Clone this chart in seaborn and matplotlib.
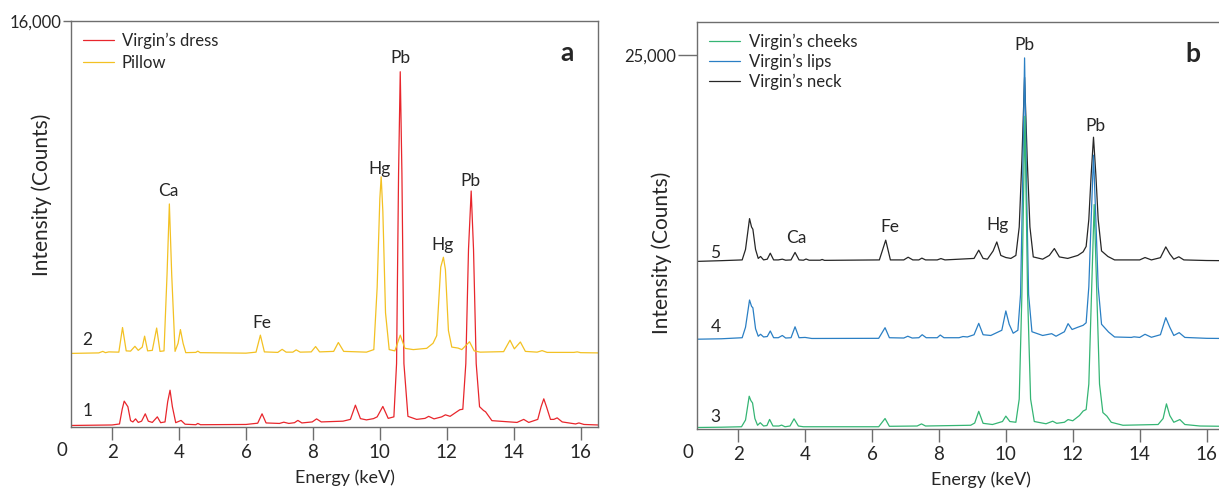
import matplotlib
matplotlib.use("Agg")
import matplotlib.pyplot as plt
import seaborn as sns
import pandas as pd

# ---------------- data ----------------
# Panel a
dress_kev = [0.75, 2.0, 2.22, 2.30, 2.36, 2.42, 2.47, 2.55, 2.62, 2.70, 2.78, 2.88, 2.99, 3.08, 3.20,
             3.35, 3.45, 3.58, 3.66, 3.73, 3.80, 3.90, 4.06, 4.18, 4.50, 4.56, 4.64, 6.0, 6.35, 6.48,
             6.60, 7.0, 7.13, 7.28, 7.45, 7.55, 7.67, 7.98, 8.11, 8.25, 8.9, 9.12, 9.27, 9.42, 9.60,
             9.81, 9.92, 10.09, 10.25, 10.42, 10.50, 10.56, 10.61, 10.66, 10.72, 10.84, 11.10, 11.35,
             11.46, 11.62, 11.85, 11.96, 12.10, 12.30, 12.39, 12.48, 12.57, 12.65, 12.73, 12.80, 12.88,
             12.98, 13.10, 13.16, 13.35, 14.10, 14.30, 14.45, 14.72, 14.82, 14.90, 14.98, 15.10, 15.20,
             15.30, 15.45, 15.85, 15.95, 16.1, 16.52]
dress_counts = [60, 80, 120, 700, 1020, 900, 800, 250, 200, 320, 180, 230, 520, 230, 180,
                400, 170, 200, 1000, 1450, 800, 170, 260, 110, 90, 140, 90, 100, 150, 520,
                160, 140, 190, 140, 170, 260, 160, 200, 320, 200, 230, 300, 860, 330, 280,
                330, 400, 810, 340, 400, 2500, 10000, 14000, 10000, 2500, 420, 300, 340,
                420, 320, 400, 480, 420, 600, 680, 700, 2500, 7000, 9300, 7000, 2500,
                800, 650, 600, 250, 180, 300, 180, 300, 800, 1110, 800, 300, 300,
                360, 200, 120, 160, 100, 80]

pillow_kev = [0.75, 1.60, 1.72, 1.80, 1.90, 2.2, 2.31, 2.42, 2.55, 2.68, 2.78, 2.90, 2.97, 3.06, 3.20,
              3.33, 3.43, 3.55, 3.64, 3.71, 3.78, 3.88, 3.97, 4.04, 4.12, 4.20, 4.50, 4.56, 4.63,
              6.0, 6.30, 6.43, 6.55, 6.95, 7.08, 7.20, 7.40, 7.50, 7.62, 7.95, 8.08, 8.20, 8.62, 8.76,
              8.92, 9.60, 9.82, 9.92, 10.00, 10.04, 10.09, 10.17, 10.28, 10.45, 10.61, 10.75, 11.0,
              11.40, 11.59, 11.70, 11.82, 11.90, 11.96, 12.05, 12.15, 12.34, 12.45, 12.68, 12.82,
              13.0, 13.70, 13.89, 14.02, 14.20, 14.35, 14.70, 14.85, 15.0, 15.80, 15.90, 16.0, 16.52]
pillow_counts = [2900, 2920, 2980, 2930, 2960, 2950, 3920, 3000, 2990, 3180, 3020, 3150, 3580, 3000, 3020,
                 3900, 2980, 3000, 6000, 8790, 6000, 2980, 3300, 3840, 3300, 2930, 2940, 2990, 2930,
                 2910, 2950, 3620, 2960, 2940, 3060, 2950, 2950, 3040, 2950, 2960, 3170, 2960, 2980, 3330,
                 2980, 2950, 3050, 5500, 9000, 9860, 8500, 4500, 3050, 3000, 3620, 3100, 3050,
                 3100, 3300, 3600, 6300, 6690, 6200, 3800, 3150, 3110, 3050, 3360, 3000,
                 2950, 2970, 3420, 3080, 3350, 2980, 2950, 3010, 2940, 2940, 2960, 2930, 2920]

# Panel b
cheeks_kev = [0.75, 1.5, 2.10, 2.22, 2.33, 2.38, 2.43, 2.50, 2.58, 2.66, 2.76, 2.86, 2.94, 3.04, 3.22,
              3.30, 3.40, 3.55, 3.67, 3.80, 3.95, 6.20, 6.39, 6.52, 7.35, 7.48, 7.60, 8.95, 9.07, 9.19,
              9.32, 9.60, 9.90, 10.0, 10.12, 10.30, 10.40, 10.48, 10.57, 10.65, 10.74, 10.85, 11.20,
              11.40, 11.52, 11.75, 11.86, 12.00, 12.20, 12.31, 12.40, 12.48, 12.56, 12.64, 12.72, 12.80,
              12.90, 13.02, 13.15, 13.5, 14.55, 14.70, 14.80, 14.90, 15.02, 15.20, 15.35, 15.8, 16.52]
cheeks_counts = [100, 120, 150, 600, 2190, 1900, 1740, 700, 250, 420, 200, 230, 640, 200, 200,
                 260, 150, 200, 680, 200, 150, 150, 700, 180, 200, 340, 200, 250, 400, 1180,
                 380, 300, 500, 860, 500, 450, 2000, 9000, 20900, 9000, 2000, 500, 350,
                 520, 380, 450, 630, 550, 900, 1200, 1300, 3000, 9000, 15000, 9000, 3000,
                 1100, 860, 450, 250, 300, 700, 1680, 900, 450, 630, 300, 200, 180]

lips_kev = [0.75, 1.5, 2.12, 2.22, 2.34, 2.40, 2.44, 2.52, 2.60, 2.67, 2.76, 2.87, 2.96, 3.06, 3.20,
            3.32, 3.42, 3.58, 3.70, 3.82, 4.0, 4.2, 6.20, 6.39, 6.52, 6.95, 7.07, 7.20, 7.40, 7.50,
            7.62, 7.95, 8.04, 8.15, 8.60, 8.72, 8.85, 9.05, 9.19, 9.32, 9.55, 9.88, 10.00, 10.10,
            10.22, 10.36, 10.44, 10.50, 10.56, 10.62, 10.68, 10.78, 11.10, 11.37, 11.50, 11.75, 11.86,
            11.98, 12.15, 12.31, 12.40, 12.48, 12.55, 12.62, 12.69, 12.76, 12.86, 13.07, 13.25, 13.75,
            13.83, 14.0, 14.16, 14.35, 14.62, 14.78, 14.90, 15.02, 15.18, 15.35, 16.0, 16.52]
lips_counts = [6000, 6030, 6100, 6800, 8620, 8200, 8100, 6700, 6200, 6330, 6150, 6180, 6550, 6100, 6100,
               6250, 6080, 6100, 6830, 6100, 6120, 6050, 6060, 6770, 6100, 6080, 6200, 6080, 6100, 6300,
               6100, 6100, 6280, 6100, 6100, 6180, 6150, 6300, 7060, 6300, 6250, 6600, 7890, 7000,
               6400, 6600, 9000, 16000, 24800, 16000, 9000, 6500, 6250, 6370, 6200, 6500, 7040,
               6650, 6800, 6930, 7100, 9500, 14000, 18300, 14000, 9500, 7000, 6480, 6150, 6120,
               6160, 6120, 6330, 6130, 6300, 7440, 6800, 6250, 6440, 6120, 6060, 6050]

neck_kev = [0.75, 1.5, 2.12, 2.22, 2.34, 2.40, 2.44, 2.52, 2.60, 2.67, 2.76, 2.87, 2.96, 3.06, 3.20,
            3.32, 3.42, 3.58, 3.70, 3.82, 3.95, 4.03, 4.12, 4.45, 4.51, 4.58, 6.22, 6.41, 6.55, 6.95,
            7.08, 7.22, 7.40, 7.49, 7.60, 7.95, 8.06, 8.18, 9.05, 9.19, 9.32, 9.45, 9.62, 9.73, 9.85,
            10.00, 10.15, 10.30, 10.40, 10.48, 10.56, 10.64, 10.72, 10.82, 11.10, 11.30, 11.45, 11.60,
            11.85, 12.15, 12.31, 12.40, 12.48, 12.55, 12.62, 12.69, 12.76, 12.86, 13.05, 13.25, 14.00,
            14.16, 14.35, 14.62, 14.78, 14.90, 15.02, 15.17, 15.32, 16.0, 16.52]
neck_counts = [11200, 11250, 11300, 12000, 14060, 13500, 13350, 12000, 11400, 11530, 11300, 11350, 11750,
               11300, 11300, 11350, 11280, 11300, 11800, 11300, 11280, 11360, 11280, 11280, 11330, 11270,
               11300, 12620, 11300, 11300, 11480, 11300, 11300, 11420, 11300, 11300, 11390, 11300, 11400,
               11950, 11400, 11350, 11900, 12500, 11600, 11460, 11400, 11600, 13500, 18000, 23500, 18000,
               13500, 11500, 11350, 11600, 12060, 11500, 11400, 11600, 11840, 12200, 14000, 17000, 19500,
               17000, 14000, 11900, 11530, 11300, 11300, 11460, 11300, 11450, 12170, 11700, 11350, 11510,
               11300, 11260, 11250]

x_ticks = [2, 4, 6, 8, 10, 12, 14, 16]
a_yticks = [16000]
b_yticks = [25000]

# ---------------- style ----------------
sns.set_style("ticks")
plt.rcParams["font.family"] = ["Lato", "DejaVu Sans"]
plt.rcParams["axes.edgecolor"] = "#6e6e6e"
plt.rcParams["axes.linewidth"] = 1.0

RED = "#e8262c"
YEL = "#f3c123"
GRN = "#35b574"
BLU = "#2a7fc4"
BLK = "#262626"

fig = plt.figure(figsize=(12.19, 4.90), dpi=100)
ax1 = fig.add_axes([0.05824, 0.12857, 0.43232, 0.82857])
ax2 = fig.add_axes([0.57178, 0.12449, 0.43232, 0.83061])

def draw(ax, kev, counts, color, label):
    df = pd.DataFrame({"Energy": kev, "Counts": counts})
    sns.lineplot(data=df, x="Energy", y="Counts", ax=ax, color=color, lw=0.9,
                 sort=False, estimator=None, label=label)

draw(ax1, dress_kev, dress_counts, RED, "Virgin’s dress")
draw(ax1, pillow_kev, pillow_counts, YEL, "Pillow")

draw(ax2, neck_kev, neck_counts, BLK, "Virgin’s neck")
draw(ax2, lips_kev, lips_counts, BLU, "Virgin’s lips")
draw(ax2, cheeks_kev, cheeks_counts, GRN, "Virgin’s cheeks")

for ax in (ax1, ax2):
    ax.set_xlim(0.77, 16.52)
    ax.set_xticks(x_ticks)
    ax.set_xticklabels([str(t) for t in x_ticks])
    ax.tick_params(axis="x", direction="out", length=9, width=1, color="#6e6e6e",
                   labelsize=13.5, pad=3)
    ax.set_xlabel("Energy (keV)", fontsize=13, labelpad=4)
    ax.set_ylabel("Intensity (Counts)", fontsize=15)
    ax.text(-0.017, -0.058, "0", transform=ax.transAxes, ha="center", va="center", fontsize=13.5)

ax1.xaxis.set_label_coords(0.52, -0.105)
ax2.xaxis.set_label_coords(0.538, -0.105)

ax1.set_ylim(0, 16000)
ax1.set_yticks(a_yticks)
ax1.set_yticklabels(["{:,}".format(v) for v in a_yticks])
ax1.tick_params(axis="y", direction="out", length=6, width=1, color="#6e6e6e", labelsize=12, pad=1)
ax1.yaxis.set_label_coords(-0.036, 0.571)

ax2.set_ylim(0, 27200)
ax2.set_yticks(b_yticks)
ax2.set_yticklabels(["{:,}".format(v) for v in b_yticks])
ax2.tick_params(axis="y", direction="out", length=14, width=1, color="#6e6e6e", labelsize=12, pad=1)
ax2.yaxis.set_label_coords(-0.047, 0.432)

# legends
h, l = ax1.get_legend_handles_labels()
ax1.legend(h, l, loc="upper left", bbox_to_anchor=(0.0, 1.0), frameon=False, fontsize=12,
           handlelength=1.9, handletextpad=0.45, labelspacing=0.33, borderaxespad=0.3)
h, l = ax2.get_legend_handles_labels()
order = [2, 1, 0]
ax2.legend([h[i] for i in order], [l[i] for i in order], loc="upper left",
           bbox_to_anchor=(0.0, 1.0), frameon=False, fontsize=12,
           handlelength=1.9, handletextpad=0.5, labelspacing=0.22, borderaxespad=0.3)

# peak labels
kw = dict(ha="center", va="center", fontsize=12.5)
ax1.text(10.61, 14540, "Pb", **kw)
ax1.text(12.70, 9710, "Pb", **kw)
ax1.text(9.99, 10180, "Hg", **kw)
ax1.text(11.87, 7190, "Hg", **kw)
ax1.text(3.69, 9310, "Ca", **kw)
ax1.text(6.46, 4090, "Fe", **kw)
ax1.text(1.24, 3420, "2", **kw)
ax1.text(1.27, 630, "1", **kw)
ax1.text(15.6, 14740, "a", ha="center", va="center", fontsize=19, fontweight="bold")

ax2.text(10.57, 25670, "Pb", **kw)
ax2.text(12.68, 20250, "Pb", **kw)
ax2.text(9.74, 13620, "Hg", **kw)
ax2.text(6.54, 13480, "Fe", **kw)
ax2.text(3.73, 12740, "Ca", **kw)
ax2.text(1.32, 11740, "5", **kw)
ax2.text(1.32, 6800, "4", **kw)
ax2.text(1.32, 770, "3", **kw)
ax2.text(15.6, 25060, "b", ha="center", va="center", fontsize=19, fontweight="bold")

fig.savefig("out.png", dpi=100)
